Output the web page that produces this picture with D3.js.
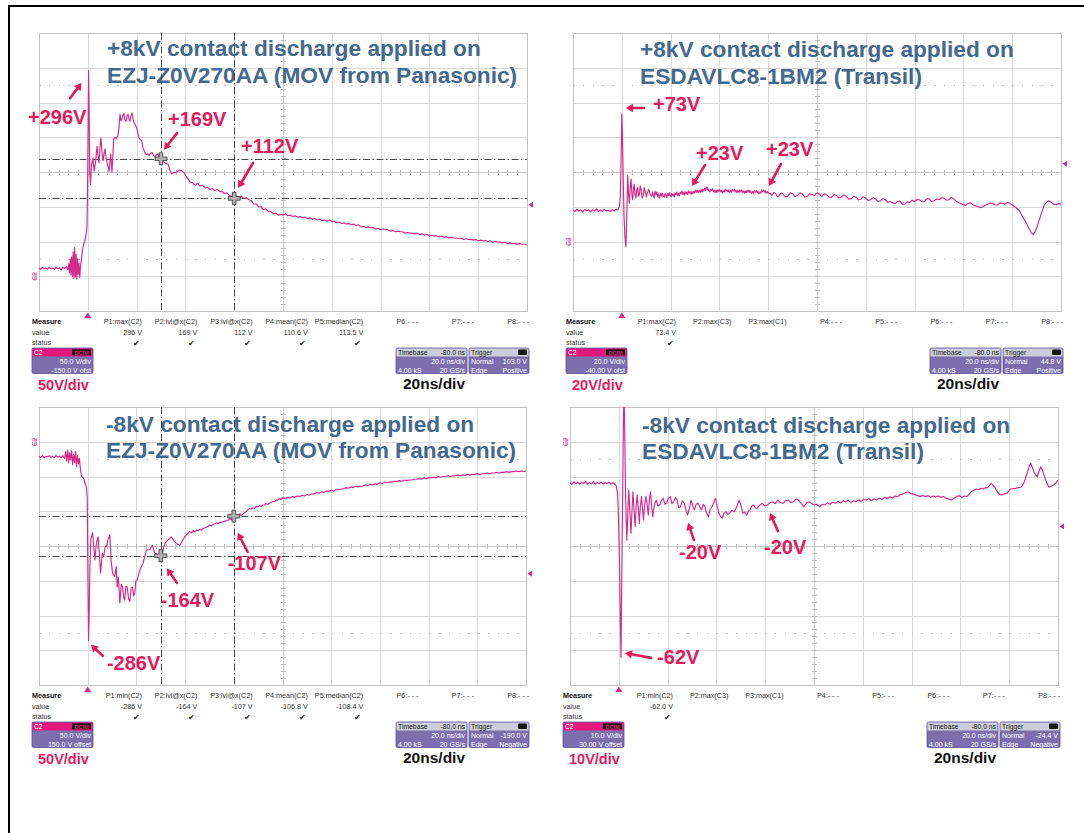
<!DOCTYPE html>
<html><head><meta charset="utf-8">
<script src="https://cdn.jsdelivr.net/npm/d3@7"></script>
<style>body{margin:0;background:#fff}svg{display:block}text{font-family:"Liberation Sans",Arial,Helvetica,sans-serif}</style>
</head><body><svg id="c" width="1084" height="833"></svg>
<script>
// ---------- DATA ----------
const timeDomain = [-20, 180];          // ns, 20 ns/div, 10 divisions
const timeTicks = d3.range(-20, 180.01, 20);
const voltsPerDiv = [50, 20, 50, 10];
const screenCenter = [150, 40, -150, -30];
const triggerLevel = [103.0, 44.8, -190.0, -24.4];
const cursorTimes = [30, 60];
const cursorLevelsP1 = [169, 112];
const cursorLevelsP3 = [-164, -107];

const titleP1 = ["+8kV contact discharge applied on", "EZJ-Z0V270AA (MOV from Panasonic)"];
const titleP2 = ["+8kV contact discharge applied on", "ESDAVLC8-1BM2 (Transil)"];
const titleP3 = ["-8kV contact discharge applied on", "EZJ-Z0V270AA (MOV from Panasonic)"];
const titleP4 = ["-8kV contact discharge applied on", "ESDAVLC8-1BM2 (Transil)"];

const scaleLabels = ["50V/div", "20V/div", "50V/div", "10V/div"];
const timeLabel = "20ns/div";

const measHeadP1 = ["P1:max(C2)","P2:lvl@x(C2)","P3:lvl@x(C2)","P4:mean(C2)","P5:median(C2)","P6:- - -","P7:- - -","P8:- - -"];
const measValP1  = ["296 V","169 V","112 V","110.6 V","113.5 V","","",""];
const measHeadP2 = ["P1:max(C2)","P2:max(C3)","P3:max(C1)","P4:- - -","P5:- - -","P6:- - -","P7:- - -","P8:- - -"];
const measValP2  = ["73.4 V","","","","","","",""];
const measHeadP3 = ["P1:min(C2)","P2:lvl@x(C2)","P3:lvl@x(C2)","P4:mean(C2)","P5:median(C2)","P6:- - -","P7:- - -","P8:- - -"];
const measValP3  = ["-286 V","-164 V","-107 V","-106.8 V","-108.4 V","","",""];
const measHeadP4 = ["P1:min(C2)","P2:max(C3)","P3:max(C1)","P4:- - -","P5:- - -","P6:- - -","P7:- - -","P8:- - -"];
const measValP4  = ["-62.0 V","","","","","","",""];

const chanBoxP1 = ["50.0 V/div", "-150.0 V ofst"];
const chanBoxP2 = ["20.0 V/div", "-40.00 V ofst"];
const chanBoxP3 = ["50.0 V/div", "150.0 V offset"];
const chanBoxP4 = ["10.0 V/div", "30.00 V offset"];
const trigBoxP1 = ["103.0 V", "Positive"];
const trigBoxP2 = ["44.8 V", "Positive"];
const trigBoxP3 = ["-190.0 V", "Negative"];
const trigBoxP4 = ["-24.4 V", "Negative"];

// annotations: label, label anchor (t,V), arrow tail (t,V), arrow head (t,V)
const notesP1 = [
  ["+296V", -24.5, 229, -7.3, 256, -2.6, 278],
  ["+169V", 32.9, 226, 36.6, 206, 31.2, 182],
  ["+112V", 62.8, 187, 67.7, 163, 61.6, 127]];
const notesP2 = [
  ["+73V", 12.8, 79, 9.1, 76.8, 1.7, 76.8],
  ["+23V", 30.4, 51, 34.1, 44, 28.8, 32],
  ["+23V", 59.1, 53.2, 65.2, 44.6, 60.3, 32]];
const notesP3 = [
  ["-286V", 7.9, -318, 6.2, -308, 1.3, -292],
  ["-164V", 30, -228, 36.6, -203, 32.5, -182],
  ["-107V", 57.5, -174.5, 65.7, -158.6, 61.6, -131]];
const notesP4 = [
  ["-62V", 15.7, -61.9, 13.2, -62.2, 2.5, -60.8],
  ["-20V", 24.7, -31.7, 30.8, -28.3, 28.4, -23.4],
  ["-20V", 59.5, -30.3, 65.2, -25.7, 62, -20.5]];

// waveforms [t (ns), V]
const traceP1 = [[-20,12],[-19.3,10],[-18.6,13],[-17.9,11],[-17.2,12],[-16.5,10],[-15.8,13],[-15.1,11],[-14.4,12],[-13.7,10],[-13,13],[-12.3,11],[-11.6,12],[-10.9,9],[-10.2,13],[-9.5,11],[-8.8,14],[-8.2,9],
[-7.8,18],[-7.5,5],[-7.2,24],[-6.9,2],[-6.6,28],[-6.3,0],[-6.0,35],[-5.7,-3],[-5.4,41],[-5.1,-1],[-4.8,32],[-4.5,-4],[-4.2,25],[-3.9,3],[-3.6,19],[-3.3,-2],[-3.0,14],[-2.6,24],[-2.2,38],[-1.6,47],[-1.1,52],[-0.6,62],[-0.3,75],[0.0,160],[0.3,296],[0.55,240],[0.8,150],[1.1,132],[1.5,160],[2.1,170],[2.6,151],[3.2,165],[3.8,187],[4.3,170],[4.6,163],[5.0,185],[5.4,199],[5.8,180],[6.2,166],[6.6,175],[7.0,183],[7.5,170],[7.9,163],[8.3,158],[8.7,151],[9.1,165],[9.4,176],[9.7,160],[9.9,149],[10.3,175],[10.6,197],[11.1,200],[11.7,198],[12.4,203],[12.8,215],[13.2,233],[13.6,224],[14.0,226],[14.4,232],[14.8,234],[15.2,225],[15.7,223],[16.1,230],[16.5,233],[16.9,226],[17.3,223],[17.7,230],[18.1,235],[18.5,228],[18.9,221],[19.5,218],[20.0,214],[20.5,206],[21.0,199],[21.5,197],[22.1,195],[22.6,185],[23.2,180],[23.9,175],[24.5,176],[25.1,174],[25.7,177],[26.3,178],[26.9,174],[27.5,172],[28.2,175],[28.8,176],[29.4,172],[30.0,169],[30.8,166],[31.6,163],[32.3,162],[32.9,161],[33.6,153],[34.4,147],[35.0,149],[35.7,149],[36.3,150],[37.0,151],[37.6,153],[38.2,152],[38.8,151],[39.4,149],[40.1,145],[40.7,142],[41.3,139],[41.9,136],[42.5,135],[43,134],
[44,131],[45,134],[46,130],[47,131],[48,127],[49,128],[50,125],[51,126],[52,123],[53,125],[54,122],[55,122],[56,119],[57,120],[58,116],[59,115],[60,112],[61,115],[62,113],[63,115],[64,112],[65,113],[66,110],[67,109],[68,104],[69,104],[70,100],[71,100],[72,96],[73,97],[74,93],[75,93],[76,90],[77,91],[78,88],[79,89],[80,88],[81,90],[82,87],[83,88],[84,86],[85,87],[86,85],[87,86],[88,84],[89,85],[90,83],[91,84],[92,82],[93,83],[94,81],[95,82],[96,80],[97,81],[98,79],[99,81],[100,79],[101,79],[102,77],[103,78],[104,76],[105,77],[106,75],[107,76],[108,74],[109,75],[110,73],[111,74],[112,71],[113,72],[114,70],[115,71],[116,70],[117,70],[118,68],[119,69],[120,67],[121,68],[122,67],[123,67],[124,65],[125,66],[126,64],[127,65],[128,64],[129,64],[130,62],[131,63],[132,62],[133,62],[134,61],[135,62],[136,60],[137,61],[138,59],[139,60],[140,58],[141,59],[142,58],[143,58],[144,57],[145,58],[146,56],[147,57],[148,55],[149,56],[150,55],[151,55],[152,54],[153,55],[154,53],[155,54],[156,53],[157,53],[158,52],[159,53],[160,51],[161,52],[162,51],[163,51],[164,50],[165,51],[166,49],[167,50],[168,49],[169,49],[170,48],[171,49],[172,47],[173,48],[174,47],[175,47],[176,46],[177,47],[178,46],[179,46],[180,45]];

const traceP2 = [[-20,18],[-19.2,17.2],[-18.4,18.6],[-17.6,17.4],[-16.8,18.3],[-16,17],[-15.2,18.5],[-14.4,17.6],[-13.6,18.2],[-12.8,17],[-12,18.4],[-11.2,17.5],[-10.4,18.8],[-9.6,17.3],[-8.8,18.1],[-8,17.2],[-7.2,18.6],[-6.4,17.6],[-5.6,18],[-4.8,17.1],[-4,18.4],[-3.2,17.5],[-2.4,18.6],[-1.6,18.2],[-1,20],[-0.6,26],[-0.3,45],[0,73.4],[0.3,60],[0.6,35],[0.9,15],[1.3,2],[1.7,-3],
[2.0,12],[2.4,38],[2.75,28],[3.1,22],[3.45,31],[3.8,36],[4.15,27],[4.5,24],[4.8,31],[5.1,33],[5.45,27],[5.8,25],[6.15,30],[6.5,31],[6.85,26],[7.2,27],[7.55,32],[7.9,30],[8.35,25],[8.8,27],[9.2,31],[9.6,29],[10.05,25.5],[10.5,28],[11.05,30],[11.6,27],[12.25,26],[12.6,28.5],[12.9,27],[13.3,25],[13.6,29],[14,27],[14.3,28.5],[14.7,26],[15,27.5],[15.4,25],[15.7,26.5],[16,28],[16.35,26],[16.7,27.8],[17,26],[17.4,25.5],[17.7,27.5],[18.1,26.8],[18.4,25.2],[18.8,27.6],[19.1,26.4],[19.5,28.2],[19.8,26.5],[20.2,25.8],[20.5,27.8],[20.8,26.3],[21.1,27.2],[21.5,25.7],[21.8,28],[22.2,27],[22.5,28.5],[22.9,26.4],[23.2,27.6],[23.6,26.2],[23.9,28.3],[24.3,27.5],[24.6,29],[25,27.2],[25.2,28.4],[25.6,26.8],[25.9,28.7],[26.3,27.4],[26.6,28.5],[27,27],[27.3,29.2],[27.7,27.8],[28,28.6],[28.4,27.2],[28.7,28.8],[29.1,27.5],[29.5,29],[29.8,28],[30.2,29.6],[30.6,28.3],[31,29.4],[31.3,28],[31.7,29.5],[32.1,28.2],[32.5,29.8],[32.9,28.5],[33.2,30.2],[33.6,29],[34,30.5],[34.3,29.4],[34.6,31.5],[35,30],[35.2,31],[35.6,29.2],[36,28.6],[36.3,30],[36.7,29.2],[37.1,30.3],[37.5,28.8],[37.9,29.6],[38.2,28],[38.6,29.5],[39,28.2],[39.4,29.8],[39.7,28.8],[40.1,30],[40.5,28.6],[40.8,29.4],[41.2,28],[41.6,29.2],[42,28.5],[42.3,30],[42.7,29],[43.1,29.8],[43.5,28.5],[43.8,29.6],[44.2,28.2],[44.6,29.3],[45,28.4],[45.3,30],[45.7,29.1],[46.1,29.9],[46.5,28.6],[46.8,29.5],[47.2,28],[47.6,29.3],[48,28.2],[48.3,29.6],[48.7,28.7],[49.1,29.5],[49.5,28.3],[49.8,29.2],[50.2,27.8],[50.6,29],[51,28],[51.3,29.4],[51.7,28.6],[52.1,29.6],[52.5,28.2],[52.8,29],[53.2,27.6],[53.6,28.8],[54,27.8],[54.3,29.2],[54.7,28.4],[55.1,29.3],[55.5,28],[55.8,28.8],[56.2,27.5],[56.6,28.6],[57,27.8],[57.3,29.4],[57.7,28.8],[58.1,29.6],[58.5,28.4],[58.8,29.2],[59.2,27.8],[59.6,28.8],[60,28],
[60.8,27.5],[61.5,26.5],[62.3,28.2],[63,27.8],[63.8,25.8],[64.5,26.5],[65.3,28],[66,27.5],[67,25.6],[68,26],[69,28],[70,27.5],[71,25.8],[72,26.5],[73,28],[74,27.5],[75,25.5],[76,26],[77,27.5],[78,27],[79,26.5],[80,28],[81,27.2],[82,26],[83,27.5],[84,26.8],[85,25.4],[86,25.5],[87,27],[88,26.5],[89,25],[90,25.5],[91,26.8],[92,26],[93,24.5],[94,24.5],[95,26],[96,25.5],[97,24],[98,24.5],[99,25.8],[100,25],[101,23.6],[102,24],[103,25.2],[104,24.5],[105,23],[106,23.5],[107,24.6],[108,24],[109,22.6],[110,23],[111,22.2],[112,21.8],[113,23],[114,23.2],[115,21.5],[116,21.5],[117,22.8],[118,22.5],[119,23.8],[120,23],[121,24.2],[122,24],[123,22.8],[124,23],[125,24.6],[126,24.5],[127,23],[128,23.5],[129,24.5],[130,24],[131,25.2],[132,25],[133,23.8],[134,24],[135,25.5],[136,24.5],[137,23.2],[138,22.5],[139,21.8],[140,21.2],[141,20.8],[142,22],[143,22.2],[144,21],[145,20.5],[146,20],[147,19.5],[148,20],[149,21],[150,21.5],[151,22.2],[152,22],[153,21],[154,21],[155,22.2],[156,22],[157,21.5],[158,22.5],[159,22],[160,21],[161,20],[162,19],[163,17.5],[164,15],[165,12.5],[166,10],[167,7],[167.8,5],[168.6,4],[169.4,5.5],[170.2,8.5],[171,12],[171.8,15.5],[172.5,18.5],[173.2,21],[174,22.5],[175,23.5],[176,22.5],[177,21.5],[178,21],[179,21.8],[180,21.5]];

const traceP3 = [[-20,-21],[-19.3,-22.5],[-18.6,-20],[-17.9,-23],[-17.2,-21],[-16.5,-22],[-15.8,-20],[-15.1,-22.5],[-14.4,-21],[-13.7,-23],[-13,-20],[-12.3,-22],[-11.6,-21],[-10.9,-23],[-10.2,-20],[-9.5,-24],[-9,-14],[-8.6,-28],[-8.2,-12],[-7.8,-30],[-7.4,-16],[-7,-26],[-6.6,-13],[-6.2,-33],[-5.8,-18],[-5.4,-30],[-5,-14],[-4.6,-36],[-4.2,-20],[-3.8,-32],[-3.4,-24],[-3,-40],[-2.5,-50],[-1.8,-52],[-1.1,-59],[-0.5,-66],[-0.2,-80],[0.1,-200],[0.35,-286],[0.6,-250],[0.9,-180],[1.3,-140],[2.0,-131],[2.95,-170],[3.6,-145],[4.3,-137],[5.3,-189],[6.0,-160],[6.6,-165],[7.2,-150],[7.7,-151],[8.4,-140],[9.1,-134],[9.6,-170],[10.2,-189],[11.1,-194],[11.7,-180],[12.1,-209],[12.6,-195],[13.2,-232],[13.8,-205],[14.3,-209],[14.8,-224],[15.2,-228],[15.7,-208],[16.2,-209],[16.8,-226],[17.3,-230],[17.9,-210],[18.4,-209],[18.9,-222],[19.3,-218],[19.8,-200],[20.3,-199],[21.4,-185],[22.7,-175],[24.1,-156],[25.5,-155],[26.6,-149],[27.5,-160],[28.9,-163],[30,-164],[30.8,-158],[31.6,-147],[33,-141],[34.4,-137],[35.7,-144],[36.8,-147],[37.8,-149],[39.8,-137],[41.9,-129],
[42.6,-131],[43.3,-128],[44,-130],[44.6,-127],[45.3,-128],[46,-126],[46.7,-127],[47.3,-125],[48,-124],[48.7,-123],[49.4,-122],[50.1,-120],[50.8,-121],[51.5,-119],[52.2,-118],[52.8,-117],[53.5,-118],[54.2,-116],[54.9,-116],[55.5,-115],[56.2,-115],[57,-113],[57.7,-113],[58.3,-111],[59,-112],[59.5,-110],[60,-107],[60.6,-109],[61.2,-106],[61.8,-107],[62.4,-104],[63,-106],[63.7,-104],[64.4,-102],[65,-101],[65.7,-98],[66.5,-96],[67.2,-97],[67.8,-95],[68.5,-96],[69.2,-93],[69.9,-94],[70.5,-92],[71.2,-93],[71.9,-91],[72.6,-91],[73.2,-89],[74,-90],[74.7,-88],[75.4,-87],[76,-86],[76.7,-86],[77.4,-84],[78,-84],[78.7,-82],[79.4,-83],[80.1,-81],[81,-82],[82,-80],[83,-81],[84,-79],[85,-80],[86,-78],[87,-79],[88,-77],[89,-78],[90,-76],[91,-77],[92,-75],[93,-75],[94,-73],[95,-74],[96,-72],[97,-73],[98,-71],[99,-71],[100,-70],[101,-71],[102,-69],[103,-69],[104,-68],[105,-68],[106,-66],[107,-67],[108,-65],[109,-66],[110,-64],[111,-65],[112,-64],[113,-64],[114,-62],[115,-63],[116,-61],[117,-62],[118,-61],[119,-61],[120,-59],[121,-60],[122,-58],[123,-59],[124,-58],[125,-58],[126,-57],[127,-57],[128,-56],[129,-57],[130,-55],[131,-56],[132,-55],[133,-55],[134,-54],[135,-54],[136,-53],[137,-54],[138,-52],[139,-53],[140,-52],[141,-52],[142,-51],[143,-52],[144,-50],[145,-51],[146,-50],[147,-50],[148,-49],[149,-50],[150,-49],[151,-49],[152,-48],[153,-49],[154,-48],[155,-48],[156,-47],[157,-48],[158,-47],[159,-47],[160,-46],[161,-47],[162,-46],[163,-46],[164,-45],[165,-46],[166,-45],[167,-45],[168,-44],[169,-45],[170,-44],[171,-44],[172,-43],[173,-44],[174,-43],[175,-43],[176,-42],[177,-43],[178,-42],[179,-43],[180,-42]];

const traceP4 = [[-20,-11.8],[-19.2,-12.3],[-18.4,-11.5],[-17.6,-12.1],[-16.8,-11.6],[-16,-12.2],[-15.2,-11.7],[-14.4,-12],[-13.6,-11.4],[-12.8,-12.2],[-12,-11.8],[-11.2,-12.1],[-10.4,-11.5],[-9.6,-12.2],[-8.8,-11.7],[-8,-12],[-7.2,-11.6],[-6.4,-12.2],[-5.6,-11.8],[-4.8,-12.1],[-4,-11.6],[-3.2,-12.2],[-2.4,-11.8],[-1.6,-12.3],[-1.0,-12.8],[-0.5,-15],[-0.1,-22],[0.3,-36],[0.6,-50],[0.9,-62],[1.2,-40],[1.5,-20],[1.8,0],[2.1,15],[2.4,5],[2.7,-12],[3.0,-22],[3.3,-28.3],[3.7,-20],[4.1,-13.9],[4.5,-20],[5.0,-26.3],[5.4,-20],[5.8,-14.4],[6.2,-19],[6.7,-24.4],[7.1,-19],[7.5,-15.3],[8.0,-19],[8.4,-23.5],[8.8,-19],[9.3,-15.8],[9.7,-19],[10.1,-22.5],[10.6,-18],[11.1,-15.8],[11.6,-18],[12.1,-21.1],[12.5,-17],[13.0,-14.4],[13.4,-18],[13.9,-21.6],[14.4,-19],[14.9,-17.5],[15.4,-16.8],[16.1,-18.5],[16.8,-18.2],[17.5,-16.8],[18.2,-16.3],[18.9,-18],[19.6,-17.7],[20.3,-16.3],[21.1,-15.8],[21.8,-17.8],[22.5,-17.3],[23.2,-16],[23.9,-16.8],[24.6,-19],[25.3,-18.7],[26,-17],[26.8,-17.7],[27.5,-19.5],[28.2,-21.1],[28.9,-19.2],[29.6,-16.8],[30.3,-18.5],[31,-19.6],[31.7,-18],[32.5,-17.7],[33.2,-18.8],[33.9,-19.6],[34.6,-18],[35.3,-18.7],[36,-20.5],[36.7,-21.6],[37.4,-19.5],[38.2,-18.7],[38.9,-17.5],[39.6,-16.3],[40.3,-18.5],[41,-20.6],[41.7,-21.5],[42.4,-22],[43.1,-20.5],[43.9,-20.1],[44.6,-21],[45.3,-20.6],[46.3,-19.8],[47.4,-20.1],[48.3,-18.8],[49.3,-16.8],[50.1,-18.5],[50.9,-20.6],[51.6,-20.2],[52.4,-21.1],[53.1,-20],[53.8,-19.6],[54.5,-18.5],[55.2,-18.2],[55.9,-19],[56.6,-19.2],[57.7,-18.3],[58.8,-17.7],[59.8,-18.5],[60.9,-18.2],[62,-17.5],[63,-17.3],[64.1,-17.8],[65.2,-16.8],[66.2,-17.5],[67.3,-17.7],[68.4,-17],[69.5,-16.8],[70.5,-17.5],[71.6,-17.3],[72.6,-16.5],[73.7,-16.8],[74.8,-17.8],[75.9,-18.7],[77,-17.5],[78,-17.3],[79,-17.8],[80.1,-18.2],[81.2,-18],[82.3,-18.7],[83.3,-18],[84.4,-18.2],[85.5,-17.6],[86.6,-18],[87.6,-17.4],[88.7,-17.7],[89.8,-17.2],[90.9,-17.6],[92,-17],[93,-17.3],[94,-16.8],[95.1,-17.5],[96.2,-17],[97.2,-17.3],[98.3,-16.7],[99.3,-17.2],[100.4,-16.6],[101.5,-16.8],[102.5,-16.4],[103.6,-17],[104.7,-16.4],[105.7,-16.8],[106.8,-16.2],[107.9,-16.6],[109,-16],[110,-16.3],[111.1,-15.8],[112.2,-16.2],[113.2,-15.6],[114.3,-15.8],[115.4,-15.2],[116.5,-15],[117.5,-14.6],[118.6,-14.4],[119.7,-14.9],[120.5,-15],[121.4,-15.3],[122.5,-15.5],[123.6,-15.8],[124.6,-15.4],[125.7,-15.8],[126.8,-15.5],[127.8,-16],[128.9,-15.6],[129.9,-15.8],[131,-15.6],[132,-16],[133.1,-15.8],[134.2,-16.3],[135.3,-16.5],[136.4,-16.8],[137.4,-16.2],[138.5,-15.8],[139.6,-15.5],[140.6,-16],[141.7,-15.6],[142.7,-15.8],[143.7,-15],[144.6,-14.3],[145.6,-13.9],[146.5,-13.6],[147.5,-13.8],[148.4,-13.4],[149.4,-13.6],[150.3,-13.2],[151.3,-13.1],[152,-12.5],[152.7,-12],[153.4,-12.6],[154.1,-13],[154.8,-14],[155.5,-14.8],[156.2,-15.2],[157,-15.3],[158,-15],[159.1,-14.8],[159.8,-14.2],[160.5,-13.6],[161.6,-13.5],[162.7,-13.4],[163.7,-13.2],[164.8,-13.1],[165.5,-12.5],[166.2,-11.5],[166.9,-10],[167.6,-8.6],[168.2,-7],[168.8,-6.2],[169.5,-7.4],[170.1,-8.6],[170.8,-9.5],[171.5,-10],[172.2,-8.5],[172.9,-7.2],[173.6,-8.2],[174.3,-9.6],[175.2,-11.5],[176.2,-13.1],[177.2,-12.8],[178.3,-12.4],[179.2,-11.8],[180,-11]];

// ---------- LAYOUT ----------
const TRACE = "#d3298a", RED = "#e8195b", BLUE = "#44698f", PURPLE = "#7b70ad";
const panels = [
  {x0:39,  y0:33,  w:488, h:278, title:titleP1, tdx:68, tb:[23,50], trace:traceP1, notes:notesP1, cur:cursorLevelsP1, mh:measHeadP1, mv:measValP1, cb:chanBoxP1, tg:trigBoxP1},
  {x0:573, y0:33,  w:488, h:278, title:titleP2, tdx:67, tb:[24,51], trace:traceP2, notes:notesP2, cur:null, mh:measHeadP2, mv:measValP2, cb:chanBoxP2, tg:trigBoxP2},
  {x0:39,  y0:407, w:487, h:278, title:titleP3, tdx:67, tb:[25,51], trace:traceP3, notes:notesP3, cur:cursorLevelsP3, mh:measHeadP3, mv:measValP3, cb:chanBoxP3, tg:trigBoxP3},
  {x0:570, y0:407, w:488, h:278, title:titleP4, tdx:72, tb:[26,52], trace:traceP4, notes:notesP4, cur:null, mh:measHeadP4, mv:measValP4, cb:chanBoxP4, tg:trigBoxP4}
];

const svg = d3.select("#c");
svg.append("rect").attr("width",1084).attr("height",833).attr("fill","#fff");
svg.append("rect").attr("x",9).attr("y",6).attr("width",1100).attr("height",900)
  .attr("fill","none").attr("stroke","#000").attr("stroke-width",2);

const defs = svg.append("defs");

panels.forEach((p, i) => {
  const g = svg.append("g");
  const div = voltsPerDiv[i], c = screenCenter[i];
  const x = d3.scaleLinear().domain(timeDomain).range([p.x0, p.x0 + p.w]);
  const y = d3.scaleLinear().domain([c - 4*div, c + 4*div]).range([p.y0 + p.h, p.y0]);
  const vTicks = d3.range(-4, 4.01, 1).map(k => c + k*div);
  const bot = p.y0 + p.h;

  // grid
  const grid = g.append("g").attr("shape-rendering","crispEdges");
  grid.selectAll(".vx").data(timeTicks).join("line")
    .attr("x1", d => Math.round(x(d))+0.5).attr("x2", d => Math.round(x(d))+0.5)
    .attr("y1", p.y0).attr("y2", bot).attr("stroke", "#d9d9d9");
  grid.selectAll(".hy").data(vTicks).join("line")
    .attr("y1", d => Math.round(y(d))+0.5).attr("y2", d => Math.round(y(d))+0.5)
    .attr("x1", p.x0).attr("x2", p.x0 + p.w).attr("stroke", "#d9d9d9");
  grid.selectAll(".dr").data([c + 2.5*div, c - 2.5*div]).join("line")
    .attr("y1", d => Math.round(y(d))+0.5).attr("y2", d => Math.round(y(d))+0.5)
    .attr("x1", p.x0).attr("x2", p.x0 + p.w).attr("stroke", "#c4c4c4")
    .attr("stroke-dasharray", "1.5 8.26");
  const tc = 80;
  grid.append("line").attr("x1", Math.round(x(tc))+0.5).attr("x2", Math.round(x(tc))+0.5)
    .attr("y1", p.y0).attr("y2", bot).attr("stroke", "#c8c8c8");
  grid.append("line").attr("y1", Math.round(y(c))+0.5).attr("y2", Math.round(y(c))+0.5)
    .attr("x1", p.x0).attr("x2", p.x0+p.w).attr("stroke", "#c8c8c8");
  grid.selectAll(".mt").data(d3.range(-20, 180.01, 4)).join("line")
    .attr("x1", d => Math.round(x(d))+0.5).attr("x2", d => Math.round(x(d))+0.5)
    .attr("y1", Math.round(y(c))-2).attr("y2", Math.round(y(c))+3).attr("stroke", "#bdbdbd");
  grid.selectAll(".mv").data(d3.range(-20, 20.01, 1).map(k => c + k*div/5)).join("line")
    .attr("y1", d => Math.round(y(d))+0.5).attr("y2", d => Math.round(y(d))+0.5)
    .attr("x1", Math.round(x(tc))-2).attr("x2", Math.round(x(tc))+3).attr("stroke", "#bdbdbd");
  grid.append("rect").attr("x", p.x0+0.5).attr("y", p.y0+0.5).attr("width", p.w).attr("height", p.h)
    .attr("fill","none").attr("stroke","#c2c2c2");

  // title
  p.title.forEach((t, k) => g.append("text").attr("x", p.x0 + p.tdx).attr("y", p.y0 + p.tb[k])
    .attr("font-size", 22.7).attr("font-weight","bold").attr("fill", BLUE).text(t));

  // cursors
  if (p.cur) {
    const cg = g.append("g").attr("stroke","#333").attr("stroke-width",0.9).attr("stroke-dasharray","7 2.5 1.5 2.5");
    cg.selectAll(".cv").data(cursorTimes).join("line")
      .attr("x1", d => Math.round(x(d))+0.5).attr("x2", d => Math.round(x(d))+0.5)
      .attr("y1", p.y0).attr("y2", bot);
    cg.selectAll(".ch").data(p.cur).join("line")
      .attr("y1", d => Math.round(y(d))+0.5).attr("y2", d => Math.round(y(d))+0.5)
      .attr("x1", p.x0).attr("x2", p.x0 + p.w);
  }

  // trace
  const cid = "clip" + i;
  defs.append("clipPath").attr("id", cid).append("rect")
    .attr("x", p.x0).attr("y", p.y0).attr("width", p.w).attr("height", p.h);
  g.append("path").datum(p.trace).attr("clip-path", `url(#${cid})`)
    .attr("d", d3.line().x(d => x(d[0])).y(d => y(d[1])))
    .attr("fill","none").attr("stroke", TRACE).attr("stroke-width", 1.15).attr("stroke-linejoin","round");

  // cursor crosses
  if (p.cur) {
    const a = 6, b = 1.8;
    const plus = `M${-b},${-a}H${b}V${-b}H${a}V${b}H${b}V${a}H${-b}V${b}H${-a}V${-b}H${-b}Z`;
    g.selectAll(".cx").data(cursorTimes.map((t, k) => [t, p.cur[k]])).join("path")
      .attr("transform", d => `translate(${x(d[0])},${y(d[1])})`).attr("d", plus)
      .attr("fill","#b0b0b0").attr("stroke","#333").attr("stroke-width",0.8);
  }

  // markers
  const tx = x(0);
  g.append("path").attr("d", `M${tx-3.5},${bot+7}L${tx+3.5},${bot+7}L${tx},${bot+1.5}Z`).attr("fill", TRACE);
  const ty = y(triggerLevel[i]), rx = p.x0 + p.w;
  g.append("path").attr("d", `M${rx+1.5},${ty}L${rx+6},${ty-3}L${rx+6},${ty+3}Z`).attr("fill", TRACE);
  const gy = y(0);
  g.append("text").attr("transform", `translate(${p.x0-2},${gy}) rotate(-90)`)
    .attr("font-size", 6.5).attr("fill", TRACE).attr("text-anchor","middle").text("C2");
  g.append("line").attr("x1", p.x0-4).attr("x2", p.x0-4).attr("y1", gy-4).attr("y2", gy+4)
    .attr("stroke", TRACE).attr("stroke-width", 0.8);

  // annotations
  const ng = g.append("g");
  p.notes.forEach(n => {
    const [lab, lt, lv, at, av, ht, hv] = n;
    const x1 = x(at), y1 = y(av), x2 = x(ht), y2 = y(hv);
    const ang = Math.atan2(y2 - y1, x2 - x1), L = 7, Wd = 4.2;
    const bx = x2 - L*Math.cos(ang), by = y2 - L*Math.sin(ang);
    ng.append("line").attr("x1", x1).attr("y1", y1).attr("x2", bx).attr("y2", by)
      .attr("stroke", RED).attr("stroke-width", 2.6).attr("stroke-linecap","round");
    ng.append("path").attr("d", `M${x2},${y2}L${bx - Wd*Math.sin(ang)},${by + Wd*Math.cos(ang)}L${bx + Wd*Math.sin(ang)},${by - Wd*Math.cos(ang)}Z`)
      .attr("fill", RED);
    ng.append("text").attr("x", x(lt)).attr("y", y(lv)).attr("dy", "0.35em")
      .attr("font-size", 20).attr("font-weight","bold").attr("fill", RED).text(lab);
  });

  // measurement table
  const mg = g.append("g").attr("font-size", 7.2).attr("fill", "#333");
  mg.append("text").attr("x", p.x0-7).attr("y", bot+13).attr("font-weight","bold").attr("fill","#111").text("Measure");
  mg.append("text").attr("x", p.x0-7).attr("y", bot+23.5).text("value");
  mg.append("text").attr("x", p.x0-7).attr("y", bot+34).text("status");
  const colX = k => p.x0 + 103 + k*55.3;
  p.mh.forEach((h, k) => mg.append("text").attr("x", colX(k)).attr("y", bot+13).attr("text-anchor","end").text(h));
  p.mv.forEach((v, k) => {
    if (!v) return;
    mg.append("text").attr("x", colX(k)).attr("y", bot+23.5).attr("text-anchor","end").text(v);
    mg.append("text").attr("x", colX(k)-2).attr("y", bot+34.5).attr("text-anchor","end")
      .attr("font-family","DejaVu Sans").attr("font-size", 8).attr("fill","#222").text("\u2714");
  });

  // channel box
  const by0 = bot + 37, bh = 25.5;
  const cbx = p.x0 - 7;
  g.append("rect").attr("x", cbx).attr("y", by0).attr("width", 61).attr("height", bh).attr("rx",1.5)
    .attr("fill", PURPLE).attr("stroke", "#5d528f").attr("stroke-width", 0.8);
  g.append("rect").attr("x", cbx+0.5).attr("y", by0+0.5).attr("width", 60).attr("height", 8).attr("fill", "#e6177c");
  g.append("text").attr("x", cbx+2).attr("y", by0+7).attr("font-size", 6.5).attr("fill","#fff").text("C2");
  g.append("rect").attr("x", cbx+40).attr("y", by0+1.3).attr("width", 19).attr("height", 6).attr("fill","#151515");
  g.append("text").attr("x", cbx+49.5).attr("y", by0+6.6).attr("font-size", 5.5).attr("font-weight","bold")
    .attr("text-anchor","middle").attr("fill","#e6177c").text("DCIM");
  p.cb.forEach((t, k) => g.append("text").attr("x", cbx+59).attr("y", by0+16 + k*8.5).attr("text-anchor","end")
    .attr("font-size", 7).attr("fill","#fff").text(t));

  // timebase box
  const tbx = p.x0 + 357;
  g.append("rect").attr("x", tbx).attr("y", by0).attr("width", 71).attr("height", bh).attr("rx",1.5)
    .attr("fill", PURPLE).attr("stroke", "#5d528f").attr("stroke-width", 0.8);
  g.append("rect").attr("x", tbx+0.5).attr("y", by0+0.5).attr("width", 70).attr("height", 8).attr("fill", "#cdccd9");
  g.append("text").attr("x", tbx+2).attr("y", by0+7).attr("font-size", 6.8).attr("fill","#222").text("Timebase");
  g.append("text").attr("x", tbx+69).attr("y", by0+7).attr("font-size", 6.8).attr("text-anchor","end").attr("fill","#222").text("-80.0 ns");
  g.append("text").attr("x", tbx+69).attr("y", by0+16).attr("font-size", 7).attr("text-anchor","end").attr("fill","#fff").text("20.0 ns/div");
  g.append("text").attr("x", tbx+2).attr("y", by0+24.5).attr("font-size", 7).attr("fill","#fff").text("4.00 kS");
  g.append("text").attr("x", tbx+69).attr("y", by0+24.5).attr("font-size", 7).attr("text-anchor","end").attr("fill","#fff").text("20 GS/s");

  // trigger box
  const gbx = p.x0 + 430;
  g.append("rect").attr("x", gbx).attr("y", by0).attr("width", 60).attr("height", bh).attr("rx",1.5)
    .attr("fill", PURPLE).attr("stroke", "#5d528f").attr("stroke-width", 0.8);
  g.append("rect").attr("x", gbx+0.5).attr("y", by0+0.5).attr("width", 59).attr("height", 8).attr("fill", "#cdccd9");
  g.append("text").attr("x", gbx+2).attr("y", by0+7).attr("font-size", 6.8).attr("fill","#222").text("Trigger");
  g.append("rect").attr("x", gbx+49).attr("y", by0+1.5).attr("width", 9).attr("height", 5.5).attr("rx",1).attr("fill","#151515");
  g.append("text").attr("x", gbx+2).attr("y", by0+16).attr("font-size", 7).attr("fill","#fff").text("Normal");
  g.append("text").attr("x", gbx+58).attr("y", by0+16).attr("font-size", 7).attr("text-anchor","end").attr("fill","#fff").text(p.tg[0]);
  g.append("text").attr("x", gbx+2).attr("y", by0+24.5).attr("font-size", 7).attr("fill","#fff").text("Edge");
  g.append("text").attr("x", gbx+58).attr("y", by0+24.5).attr("font-size", 7).attr("text-anchor","end").attr("fill","#fff").text(p.tg[1]);

  // scale labels
  g.append("text").attr("x", p.x0 - 1).attr("y", bot + 79).attr("font-size", 14.5).attr("font-weight","bold")
    .attr("fill", RED).text(scaleLabels[i]);
  g.append("text").attr("x", p.x0 + 364).attr("y", bot + 78).attr("font-size", 15.5).attr("font-weight","bold")
    .attr("fill", "#111").text(timeLabel);
});
</script></body></html>
